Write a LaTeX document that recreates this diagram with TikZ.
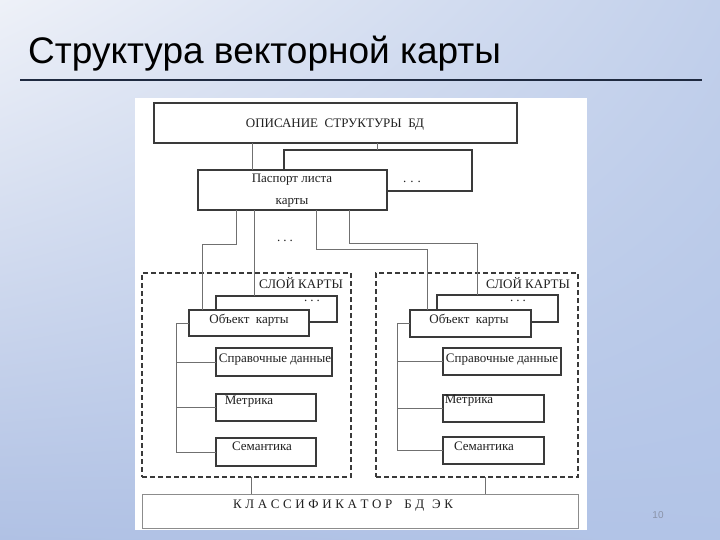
\documentclass[tikz,border=0pt]{standalone}
\usepackage{fontspec}
\setmainfont{Liberation Serif}
\newfontfamily\titlefont{Liberation Sans}
\usetikzlibrary{fit,shadings}
\definecolor{bgUL}{HTML}{EEF1F8}
\definecolor{bgUR}{HTML}{C2D0EB}
\definecolor{bgLL}{HTML}{B0C1E4}
\definecolor{bgLR}{HTML}{B2C4E7}
\definecolor{rulecol}{HTML}{1F2A40}
\definecolor{boxcol}{HTML}{3A3A3A}
\definecolor{conncol}{HTML}{707070}
\definecolor{txtcol}{HTML}{202020}
\definecolor{numcol}{HTML}{8A93A8}
\tikzset{
  box/.style={draw=boxcol, line width=1.3pt, fill=white, inner sep=0pt, outer sep=0pt},
  layerbox/.style={draw=boxcol, line width=1.2pt, dash pattern=on 5pt off 3pt, inner sep=0pt, outer sep=0pt},
  clsbox/.style={draw=black!45, line width=1pt, fill=white, inner sep=0pt, outer sep=0pt},
  conn/.style={draw=conncol, line width=0.9pt},
  lbl/.style={font=\fontsize{13pt}{15pt}\selectfont, text=txtcol, inner sep=0pt},
  dots/.style={font=\fontsize{13pt}{15pt}\selectfont, text=txtcol, inner sep=0pt},
}
\newcommand{\threedots}[1]{.\hspace{#1}.\hspace{#1}.}
\newcommand{\lsp}{\hspace{3.6pt}}
\begin{document}
\begin{tikzpicture}[x=1pt,y=-1pt]
\useasboundingbox (0,0) rectangle (720,540);
\shade[upper left=bgUL, upper right=bgUR, lower left=bgLL, lower right=bgLR] (0,0) rectangle (720,540);
% title
\node[anchor=base west, inner sep=0pt, font=\titlefont\fontsize{37pt}{40pt}\selectfont, text=black] (title) at (28,64) {Структура векторной карты};
\draw[rulecol, line width=1.5pt] (20,80) coordinate (ruleL) -- (702,80) coordinate (ruleR);
% white panel
\fill[white] (135,98) rectangle (587,530);
% top part
\node[box, fit={(154,103)(517,143)}] (top) {};
\node[lbl] (topT) at (335,125) {ОПИСАНИЕ\ \ СТРУКТУРЫ\ \ БД};
\node[box, fit={(284,150)(472,191)}] (back1) {};
\node[box, fit={(198,170)(387,210)}] (pass) {};
\node[lbl] (passT1) at (292,180) {Паспорт листа};
\node[lbl] (passT2) at (292,203) {карты};
\node[dots] (dots1) at (412,182) {\threedots{4pt}};
\node[dots] (dots2) at (285,241) {\threedots{3pt}};
% layers
\node[layerbox, fit={(142,273)(351,477)}] (Llay) {};
\node[layerbox, fit={(376,273)(578,477)}] (Rlay) {};
\node[lbl] (LlayT) at (301,283) {СЛОЙ КАРТЫ};
\node[lbl] (RlayT) at (528,283) {СЛОЙ КАРТЫ};
% left layer
\node[box, fit={(216,296)(337,322)}] (Lback) {};
\node[box, fit={(189,310)(309,336)}] (Lobj) {};
\node[box, fit={(216,348)(332,376)}] (Lref) {};
\node[box, fit={(216,394)(316,421)}] (Lmet) {};
\node[box, fit={(216,438)(316,466)}] (Lsem) {};
\node[dots] (Ldots) at (312,301) {\threedots{3pt}};
\node[lbl] (LobjT) at (249,320) {Объект\ \ карты};
\node[lbl] (LrefT) at (275,360) {Справочные данные};
\node[lbl] (LmetT) at (249,402) {Метрика};
\node[lbl] (LsemT) at (262,446) {Семантика};
% right layer
\node[box, fit={(437,295)(558,322)}] (Rback) {};
\node[box, fit={(410,310)(531,337)}] (Robj) {};
\node[box, fit={(443,348)(561,375)}] (Rref) {};
\node[box, fit={(443,395)(544,422)}] (Rmet) {};
\node[box, fit={(443,437)(544,464)}] (Rsem) {};
\node[dots] (Rdots) at (518,301) {\threedots{3pt}};
\node[lbl] (RobjT) at (469,320) {Объект\ \ карты};
\node[lbl] (RrefT) at (502,360) {Справочные данные};
\node[lbl] (RmetT) at (469,401) {Метрика};
\node[lbl] (RsemT) at (484,446) {Семантика};
% classifier
\node[clsbox, fit={(142,494)(578,528)}] (cls) {};
\node[lbl, anchor=west] (clsT) at (233,506) {К\lsp Л\lsp А\lsp С\lsp С\lsp И\lsp Ф\lsp И\lsp К\lsp А\lsp Т\lsp О\lsp Р\hspace{12pt}Б\lsp Д\hspace{8pt}Э\lsp К};
% page number
\node[inner sep=0pt, font=\titlefont\fontsize{10pt}{12pt}\selectfont, text=numcol] (pnum) at (658,515) {10};
% connectors
\draw[conn] (top.south -| 252,0) -- (pass.north -| 252,0);
\draw[conn] (top.south -| 377,0) -- (back1.north -| 377,0);
\draw[conn] (pass.south -| 236,0) -- (236,244) -| (Lobj.north -| 202,0);
\draw[conn] (pass.south -| 254,0) -- (Lback.north -| 254,0);
\draw[conn] (pass.south -| 316,0) -- (316,249) -| (Robj.north -| 427,0);
\draw[conn] (pass.south -| 349,0) -- (349,243) -| (Rback.north -| 477,0);
% trees
\draw[conn] (Lobj.west) -- (Lobj.west -| 176,0) |- (Lsem.west);
\draw[conn] (Lref.west -| 176,0) -- (Lref.west);
\draw[conn] (Lmet.west -| 176,0) -- (Lmet.west);
\draw[conn] (Robj.west) -- (Robj.west -| 397,0) |- (Rsem.west);
\draw[conn] (Rref.west -| 397,0) -- (Rref.west);
\draw[conn] (Rmet.west -| 397,0) -- (Rmet.west);
% layers to classifier
\draw[conn] (Llay.south -| 251,0) -- (cls.north -| 251,0);
\draw[conn] (Rlay.south -| 485,0) -- (cls.north -| 485,0);
\end{tikzpicture}
\end{document}
